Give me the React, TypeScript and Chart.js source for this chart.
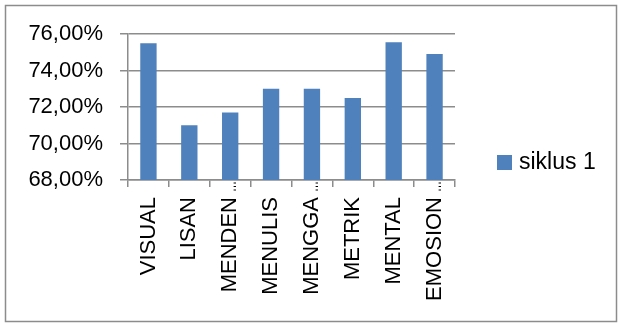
import React, { useEffect, useRef } from "react";
import { Chart, registerables } from "chart.js";

Chart.register(...registerables);

const categories = ["VISUAL", "LISAN", "MENDEN…", "MENULIS", "MENGGA…", "METRIK", "MENTAL", "EMOSION…"];
const seriesName = "siklus 1";
const seriesValues = [75.5, 71.0, 71.7, 73.0, 73.0, 72.5, 75.55, 74.9];
const yMin = 68;
const yMax = 76;
const yStep = 2;

const W = 618;
const H = 323;
const FONT = "'Liberation Sans', Arial, sans-serif";
const BAR = "#4F81BD";
const GRID = "#8c8c8c";
const ELLIPSIS = "…";

const fmt = (v: number) => v.toFixed(2).replace(".", ",") + "%";

const framePlugin = {
  id: "frame",
  beforeDraw(chart: any) {
    const { ctx } = chart;
    ctx.save();
    ctx.fillStyle = "#ffffff";
    ctx.fillRect(0, 0, W, H);
    ctx.strokeStyle = "#8c8c8c";
    ctx.lineWidth = 1.5;
    ctx.strokeRect(5.5, 5.5, W - 7, H - 7);
    ctx.restore();
  },
  afterDraw(chart: any) {
    const { ctx, chartArea } = chart;
    const ds = chart.data.datasets[0];
    const xs = chart.scales.x;
    // truncated-label ellipses, overlapping the tick area like the original
    ctx.save();
    ctx.fillStyle = "#000";
    ctx.font = `22px ${FONT}`;
    ctx.textAlign = "left";
    ctx.textBaseline = "middle";
    chart.data.labels.forEach((lab: string, i: number) => {
      if (!lab.endsWith(ELLIPSIS)) return;
      const x = xs.getPixelForTick(i);
      ctx.save();
      ctx.translate(x, chartArea.bottom + 12);
      ctx.rotate(-Math.PI / 2);
      ctx.scale(0.5, 1);
      ctx.fillText(ELLIPSIS, 0, 0);
      ctx.restore();
    });
    ctx.restore();
    // legend
    ctx.save();
    const box = 15;
    const x = chartArea.right + 42;
    const cy = H / 2 + 1;
    ctx.fillStyle = ds.backgroundColor;
    ctx.fillRect(x, cy - box / 2, box, box);
    ctx.fillStyle = "#000";
    ctx.font = `23px ${FONT}`;
    ctx.textBaseline = "middle";
    ctx.textAlign = "left";
    ctx.fillText(ds.label, x + box + 7, cy);
    ctx.restore();
  },
};

export default function App() {
  const ref = useRef<HTMLCanvasElement>(null);
  useEffect(() => {
    if (!ref.current) return;
    const chart = new Chart(ref.current, {
      type: "bar",
      data: {
        labels: categories,
        datasets: [
          {
            label: seriesName,
            data: seriesValues,
            backgroundColor: BAR,
            borderWidth: 0,
            barPercentage: 0.4,
            categoryPercentage: 1,
          },
        ],
      },
      options: {
        responsive: false,
        animation: false,
        layout: { padding: { left: 0, right: 163, top: 34, bottom: 0 } },
        plugins: { legend: { display: false }, tooltip: { enabled: false } },
        scales: {
          x: {
            offset: true,
            grid: {
              offset: true,
              drawOnChartArea: false,
              drawTicks: true,
              tickLength: 7,
              color: GRID,
              lineWidth: 1.5,
            },
            border: { color: GRID, width: 1.5 },
            ticks: {
              autoSkip: false,
              minRotation: 90,
              maxRotation: 90,
              padding: 10,
              color: "#000",
              font: { family: FONT, size: 22 },
              callback: (_v: any, i: number) => categories[i].replace(ELLIPSIS, ""),
            },
            afterFit: (s: any) => {
              s.height = H - 180;
            },
          },
          y: {
            min: yMin,
            max: yMax,
            ticks: {
              stepSize: yStep,
              padding: 17,
              color: "#000",
              font: { family: FONT, size: 22 },
              callback: (v: any) => fmt(Number(v)),
            },
            grid: { color: GRID, lineWidth: 1.5, tickLength: 8 },
            border: { color: GRID, width: 1.5 },
            afterFit: (s: any) => {
              s.width = 128;
            },
          },
        },
      },
      plugins: [framePlugin],
    });
    return () => chart.destroy();
  }, []);
  return (
    <div style={{ position: "fixed", left: 0, top: 0, width: W, height: H }}>
      <canvas ref={ref} width={W} height={H} />
    </div>
  );
}
